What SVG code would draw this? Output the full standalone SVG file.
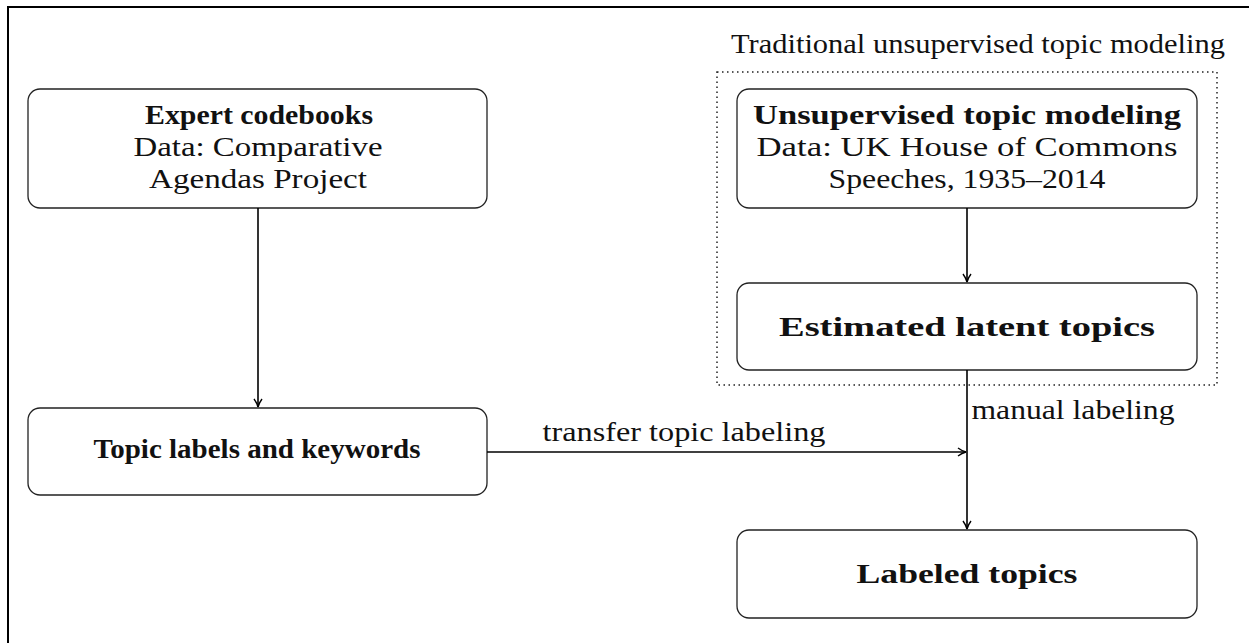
<svg xmlns="http://www.w3.org/2000/svg" width="1249" height="643" viewBox="0 0 1249 643">
<style>
.box{fill:#fff;stroke:#222;stroke-width:1.3}
.t{font-family:"Liberation Serif","DejaVu Serif",serif;font-size:27px;fill:#111;text-anchor:middle}
.b{font-weight:bold}
.c{fill:none;stroke:#000;stroke-width:1.6}
</style>
<defs>
<marker id="ar" viewBox="0 0 10 10" refX="9" refY="5" markerWidth="10" markerHeight="10" markerUnits="userSpaceOnUse" orient="auto">
<path d="M1,1 Q5,4 9,5 Q5,6 1,9" fill="none" stroke="#000" stroke-width="1.4"/>
</marker>
</defs>
<rect x="8" y="7" width="1260" height="660" fill="#fff" stroke="#000" stroke-width="2"/>
<g id="group-traditional">
<rect x="717" y="72" width="500" height="313" fill="none" stroke="#222" stroke-width="1.5" stroke-dasharray="1.5 3.5"/>
<text class="t" x="978" y="53" textLength="494" lengthAdjust="spacingAndGlyphs">Traditional unsupervised topic modeling</text>
</g>
<g id="node-expert">
<rect class="box" x="28" y="89" width="459" height="119" rx="12"/>
<text class="t b" x="259" y="124" textLength="228" lengthAdjust="spacingAndGlyphs">Expert codebooks</text>
<text class="t" x="258" y="156" textLength="249" lengthAdjust="spacingAndGlyphs">Data: Comparative</text>
<text class="t" x="258" y="188" textLength="218" lengthAdjust="spacingAndGlyphs">Agendas Project</text>
</g>
<g id="node-unsupervised">
<rect class="box" x="737" y="89" width="460" height="119" rx="12"/>
<text class="t b" x="967" y="124" textLength="428" lengthAdjust="spacingAndGlyphs">Unsupervised topic modeling</text>
<text class="t" x="967" y="156" textLength="421" lengthAdjust="spacingAndGlyphs">Data: UK House of Commons</text>
<text class="t" x="967" y="188" textLength="277" lengthAdjust="spacingAndGlyphs">Speeches, 1935–2014</text>
</g>
<g id="node-estimated">
<rect class="box" x="737" y="283" width="460" height="87" rx="12"/>
<text class="t b" x="967" y="336" textLength="376" lengthAdjust="spacingAndGlyphs">Estimated latent topics</text>
</g>
<g id="node-topiclabels">
<rect class="box" x="28" y="408" width="459" height="87" rx="12"/>
<text class="t b" x="257" y="458" textLength="327" lengthAdjust="spacingAndGlyphs">Topic labels and keywords</text>
</g>
<g id="node-labeled">
<rect class="box" x="737" y="530" width="460" height="88" rx="12"/>
<text class="t b" x="967" y="583" textLength="221" lengthAdjust="spacingAndGlyphs">Labeled topics</text>
</g>
<g id="connectors">
<line class="c" x1="258" y1="208" x2="258" y2="407" marker-end="url(#ar)"/>
<line class="c" x1="967" y1="208" x2="967" y2="282" marker-end="url(#ar)"/>
<line class="c" x1="967" y1="370" x2="967" y2="529" marker-end="url(#ar)"/>
<line class="c" x1="487" y1="452" x2="966" y2="452" marker-end="url(#ar)"/>
<text class="t" x="684" y="441" textLength="283" lengthAdjust="spacingAndGlyphs">transfer topic labeling</text>
<text class="t" x="1073" y="419" textLength="203" lengthAdjust="spacingAndGlyphs">manual labeling</text>
</g>
</svg>
